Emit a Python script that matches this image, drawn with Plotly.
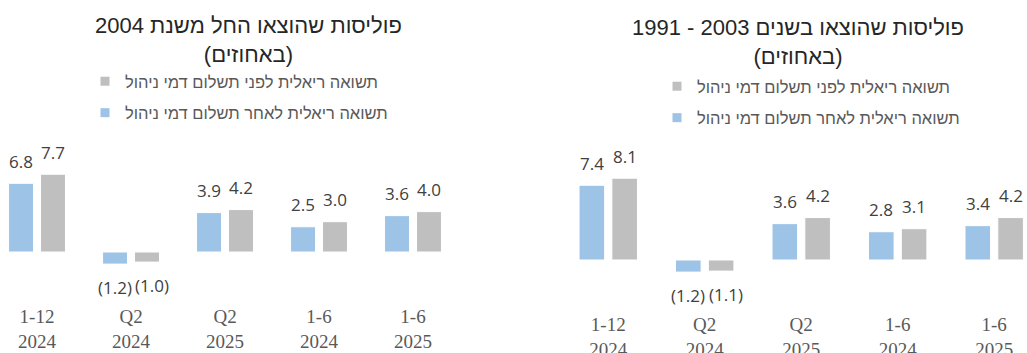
import plotly.graph_objects as go

# Period labels (shared by both panels)
categories = ["1-12<br>2024", "Q2<br>2024", "Q2<br>2025", "1-6<br>2024", "1-6<br>2025"]

# Series names
name_after = "תשואה ריאלית לאחר תשלום דמי ניהול"
name_before = "תשואה ריאלית לפני תשלום דמי ניהול"

# Policies issued from 2004 onwards (%)
since2004_after = [6.8, -1.2, 3.9, 2.5, 3.6]
since2004_before = [7.7, -1.0, 4.2, 3.0, 4.0]

# Policies issued 1991-2003 (%)
y1991_after = [7.4, -1.2, 3.6, 2.8, 3.4]
y1991_before = [8.1, -1.1, 4.2, 3.1, 4.2]

title_left = "פוליסות שהוצאו החל משנת 2004<br>(באחוזים)"
title_right = "פוליסות שהוצאו בשנים 2003 - 1991<br>(באחוזים)"

BLUE = "#9DC3E6"
GRAY = "#BFBFBF"
BARGAP = 0.32
GROUPGAP = 0.22
W, H = 1027, 353

LABEL_FONT = dict(family="Open Sans, DejaVu Sans, sans-serif", size=17, color="#404040")
TICK_FONT = dict(family="Liberation Serif, DejaVu Serif, serif", size=19, color="#595959")
HEB_FONT = "Liberation Sans, DejaVu Sans, sans-serif"


def fmt(v):
    return f"({abs(v):.1f})" if v < 0 else f"{v:.1f}"


fig = go.Figure()
annotations = []

panels = [
    dict(xa="x", ya="y", after=since2004_after, before=since2004_before, legend="legend"),
    dict(xa="x2", ya="y2", after=y1991_after, before=y1991_before, legend="legend2"),
]

half = (1 - BARGAP) / 4  # center offset of each bar within its group
for p in panels:
    for vals, color, off in ((p["after"], BLUE, -half), (p["before"], GRAY, half)):
        fig.add_trace(go.Bar(
            x=categories, y=vals, xaxis=p["xa"], yaxis=p["ya"],
            marker=dict(color=color, line=dict(color="white", width=1)),
            showlegend=False, hoverinfo="skip",
        ))
        for i, v in enumerate(vals):
            neg = v < 0
            annotations.append(dict(
                x=i + off, y=v, xref=p["xa"], yref=p["ya"], text=fmt(v),
                showarrow=False, yanchor="middle", xanchor="center",
                yshift=-23 if neg else 22,
                xshift=5 if (neg and off > 0) else 0,  # keep paired negative labels apart
                font=LABEL_FONT,
            ))
    # legend swatches (gray listed first)
    for name, color, rank in ((name_before, GRAY, 1), (name_after, BLUE, 2)):
        fig.add_trace(go.Scatter(
            x=[None], y=[None], xaxis=p["xa"], yaxis=p["ya"], mode="markers",
            marker=dict(symbol="square", size=9, color=color),
            name=name, legend=p["legend"], legendrank=rank, legendgroup=name + p["legend"],
        ))

for text, xc, yc in ((title_left, 248, 40.5), (title_right, 798, 41.5)):
    annotations.append(dict(
        x=xc / W, y=1 - yc / H, xref="paper", yref="paper", text=text,
        showarrow=False, xanchor="center", yanchor="middle",
        font=dict(family=HEB_FONT, size=22, color="#262626"),
    ))

legend_style = dict(
    font=dict(family=HEB_FONT, size=16.5, color="#595959"),
    bgcolor="rgba(0,0,0,0)", tracegroupgap=7, xanchor="left", yanchor="top",
    itemclick=False, itemdoubleclick=False,
)

fig.update_layout(
    width=W, height=H, margin=dict(l=0, r=0, t=0, b=0, autoexpand=False),
    paper_bgcolor="white", plot_bgcolor="white",
    barmode="group", bargap=BARGAP, bargroupgap=GROUPGAP,
    showlegend=True,
    legend=dict(x=85 / W, y=1 - 64 / H, **legend_style),
    legend2=dict(x=657 / W, y=1 - 69 / H, **legend_style),
    annotations=annotations,
    xaxis=dict(domain=[0, 460 / W], range=[-0.394, 4.5], showgrid=False, zeroline=False,
               showline=False, ticks="", tickfont=TICK_FONT, anchor="y", automargin=False,
               ticklabelstandoff=11),
    yaxis=dict(domain=[(H - 292.4) / H, (H - 140.9) / H], range=[-4, 11], visible=False,
               showgrid=False, zeroline=False, automargin=False),
    xaxis2=dict(domain=[560 / W, 1], range=[-0.5, 4.34], showgrid=False, zeroline=False,
                showline=False, ticks="", tickfont=TICK_FONT, anchor="y2", automargin=False,
                ticklabelstandoff=11),
    yaxis2=dict(domain=[(H - 300.4) / H, (H - 148.9) / H], range=[-4, 11], visible=False,
                showgrid=False, zeroline=False, automargin=False),
)

fig.write_html("out.html")
